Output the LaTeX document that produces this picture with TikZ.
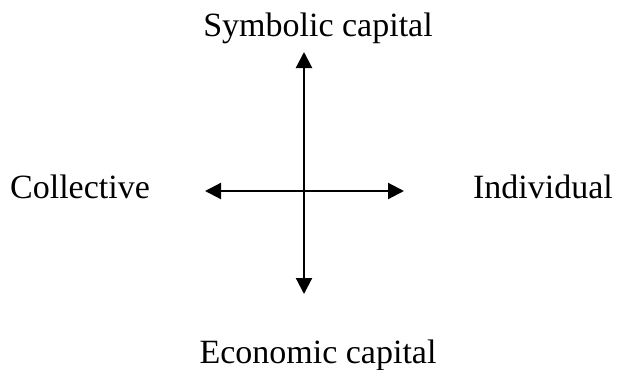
\documentclass[tikz,border=0pt]{standalone}
\usepackage{fontspec}
\setmainfont{Liberation Serif}
\usetikzlibrary{arrows.meta}

\begin{document}
\begin{tikzpicture}[
x=0.75pt, y=0.75pt,
every node/.style={inner sep=0, anchor=base, font=\fontsize{25.5}{30}\selectfont},
every path/.style={line width=1.6pt},
axis/.style={{Triangle[length=12pt, width=12pt]}-{Triangle[length=12pt, width=12pt]}}
]
\useasboundingbox (0,0) rectangle (620,369);
\coordinate (top) at (304,317);
\coordinate (bottom) at (304,75);
\coordinate (left) at (205,178);
\coordinate (right) at (404,178);
\node (symbolic) at (318,333) {Symbolic capital};
\node (economic) at (318,6) {Economic capital};
\node (collective) at (80,171) {Collective};
\node (individual) at (543,171) {Individual};
\draw[axis] (bottom) to (top);
\draw[axis] (left) to (right);
\end{tikzpicture}
\end{document}
